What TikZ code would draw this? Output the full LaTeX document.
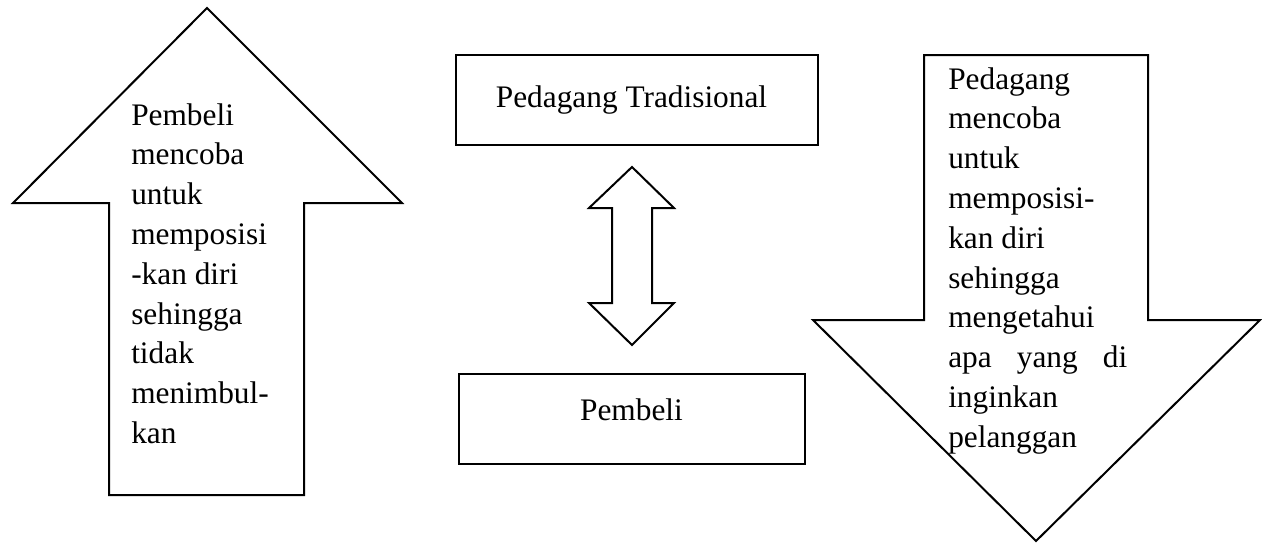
\documentclass[tikz,border=0pt]{standalone}
\usepackage{fontspec}
\setmainfont{Liberation Serif}
\tikzset{
  arrowshape/.style={draw, line width=1.5pt, line join=miter},
  box/.style={draw, line width=1.5pt, inner sep=0pt},
  txt/.style={inner sep=0pt, anchor=base west, font=\fontsize{23.5pt}{29.85pt}\selectfont},
}
\begin{document}
\begin{tikzpicture}[x=0.75pt, y=-0.75pt]
\useasboundingbox (0,0) rectangle (1262,544);
% left up arrow
\draw[arrowshape] (207,8) -- (402,203) -- (304,203) -- (304,495) -- (109,495) -- (109,203) -- (13,203) -- cycle;
% right down arrow
\draw[arrowshape] (924,55) -- (1148,55) -- (1148,320) -- (1260,320) -- (1036,541) -- (813,320) -- (924,320) -- cycle;
% double arrow
\draw[arrowshape] (632,167) -- (674,208) -- (652,208) -- (652,303) -- (674,303) -- (632,345) -- (589,303) -- (612,303) -- (612,208) -- (589,208) -- cycle;
% boxes
\node[box, minimum width=271.5pt, minimum height=67.5pt] (pt) at (637,100) {};
\node[box, minimum width=259.5pt, minimum height=67.5pt] (pb) at (631.5,419) {};
\node[txt, anchor=base] (ptt) at (631.5,107) {Pedagang Tradisional};
\node[txt, anchor=base] (pbt) at (631.5,420) {Pembeli};
% texts in arrows
\node[txt] (lt) at (131,125) {\parbox[t]{130pt}{\raggedright Pembeli\\mencoba\\untuk\\memposisi\\-kan diri\\sehingga\\tidak\\menimbul-\\kan}};
\node[txt] (rt) at (948,89) {\parbox[t]{140pt}{\raggedright Pedagang\\mencoba\\untuk\\memposisi-\\kan diri\\sehingga\\mengetahui\\\makebox[134.25pt][s]{apa yang di}\\inginkan\\pelanggan}};
\end{tikzpicture}
\end{document}
